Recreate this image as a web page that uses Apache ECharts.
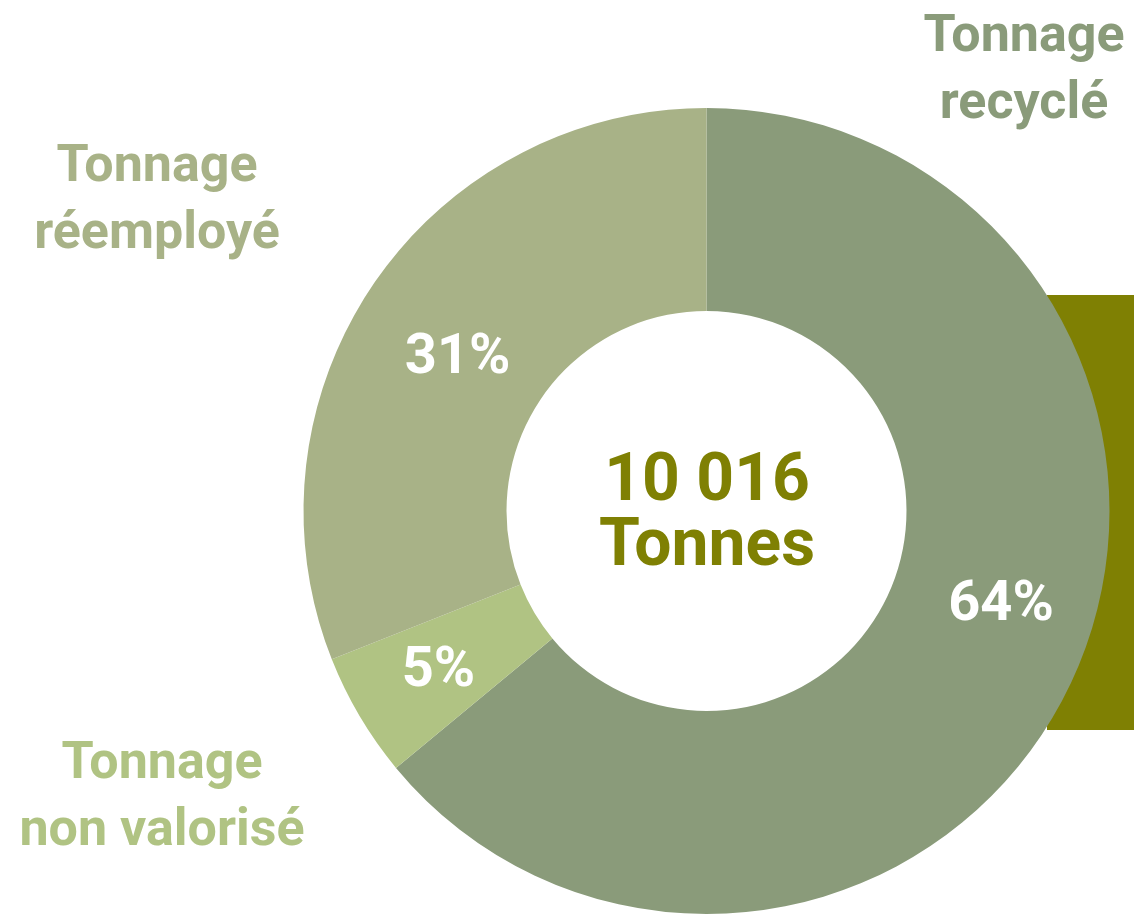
<!DOCTYPE html>
<html>
<head>
<meta charset="utf-8">
<script src="https://cdn.jsdelivr.net/npm/echarts@6/dist/echarts.min.js"></script>
<style>html,body{margin:0;padding:0;background:#fff}#c{width:1134px;height:914px}</style>
</head>
<body>
<div id="c"></div>
<script>
const categories = ['Tonnage\nrecyclé', 'Tonnage\nnon valorisé', 'Tonnage\nréemployé'];
const values = [64, 5, 31];
const colors = ['#8A9B7A', '#B0C383', '#A8B287'];
const totalLabel = '10 016\nTonnes';

const chart = echarts.init(document.getElementById('c'));
const font = 'Roboto';
const labelPos = [[1024, 71], [162, 798], [157, 201]];
const labelShift = [[19, -35], [-6, 6], [3, 19]];
chart.setOption({
  animation: false,
  graphic: [
    { type: 'rect', z: 0, shape: { x: 1047, y: 295, width: 87, height: 435 }, style: { fill: '#7F8003' } },
    { type: 'text', z: 10,
      style: { text: totalLabel, x: 707, y: 516, align: 'center', verticalAlign: 'middle',
        font: 'bold 66px Roboto', lineHeight: 65, fill: '#7F8003' } }
  ].concat(categories.map((c, i) => ({
    type: 'text', z: 10,
    style: { text: c, x: labelPos[i][0], y: labelPos[i][1], align: 'center', verticalAlign: 'middle',
      font: 'bold 52px Roboto', lineHeight: 67, fill: colors[i] }
  }))),
  series: [{
    type: 'pie',
    z: 2,
    center: [706.5, 511],
    radius: [200, 403],
    startAngle: 90,
    clockwise: true,
    avoidLabelOverlap: false,
    itemStyle: { borderWidth: 0 },
    label: {
      show: true, position: 'inside', formatter: '{c}%',
      color: '#fff', fontFamily: font, fontWeight: 'bold', fontSize: 56
    },
    labelLayout: function (p) { const s = labelShift[p.dataIndex]; return { dx: s[0], dy: s[1] }; },
    labelLine: { show: false },
    emphasis: { disabled: true },
    data: categories.map((c, i) => ({ name: c, value: values[i], itemStyle: { color: colors[i] } }))
  }]
});
</script>
</body>
</html>
